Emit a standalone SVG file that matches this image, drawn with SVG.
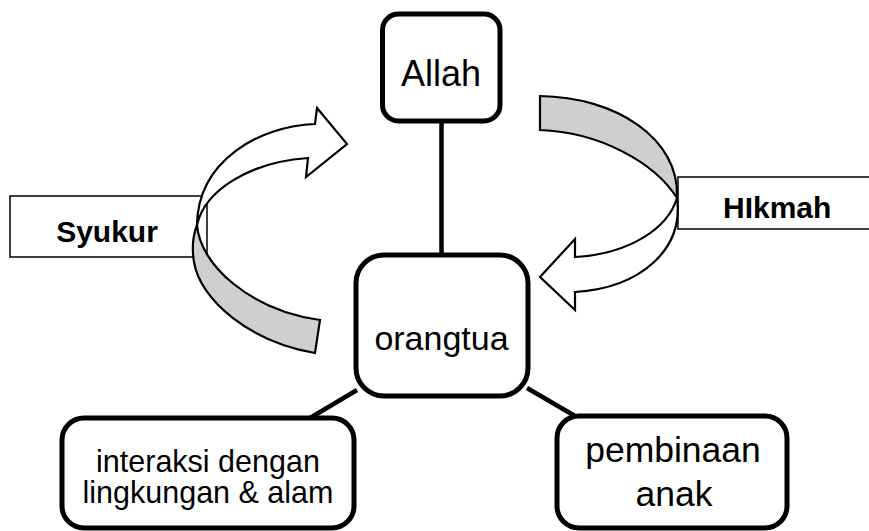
<svg xmlns="http://www.w3.org/2000/svg" width="869" height="531" viewBox="0 0 869 531">
  <style>
    .node { fill: #ffffff; stroke: #000000; stroke-width: 5; }
    .label-box { fill: #ffffff; stroke: #000000; stroke-width: 1.5; }
    .conn { stroke: #000000; stroke-width: 4.5; fill: none; }
    .arrow-front { fill: #ffffff; stroke: #000000; stroke-width: 2.2; stroke-linejoin: miter; }
    .arrow-back { fill: #cfcfcf; stroke: #000000; stroke-width: 2.2; stroke-linejoin: miter; }
    .t { font-family: "Liberation Sans", Arial, sans-serif; fill: #000000; text-anchor: middle; }
    .b { font-family: "Liberation Sans", Arial, sans-serif; font-weight: bold; fill: #000000; }
  </style>
  <rect width="869" height="531" fill="#ffffff"/>

  <g id="connectors">
    <line class="conn" x1="441.5" y1="121" x2="441.5" y2="255"/>
    <line class="conn" x1="357" y1="390" x2="310" y2="418"/>
    <line class="conn" x1="527" y1="388" x2="575" y2="416"/>
  </g>

  <g id="label-syukur">
    <rect class="label-box" x="10" y="196" width="197" height="61"/>
    <text class="b" x="107" y="242" font-size="30" text-anchor="middle">Syukur</text>
  </g>

  <g id="label-hikmah">
    <rect class="label-box" x="678" y="177" width="200" height="52"/>
    <text class="b" x="723" y="218" font-size="30">HIkmah</text>
  </g>

  <g id="arrow-syukur">
    <path class="arrow-back" d="M197,225 C192,238 192,250 194,262 C200,300 250,342 315,353 L320,320 C250,310 200,265 197,225 Z"/>
    <path class="arrow-front" d="M197,225 C205,190 250,162 308,158 L306,177 L347,144 L317,108 L315,124 C260,126 198,160 197,225 Z"/>
  </g>

  <g id="arrow-hikmah">
    <path class="arrow-back" d="M540,96 C615,97 680,138 677,198 C655,163 600,132 540,130 Z"/>
    <path class="arrow-front" d="M677,198 C668,228 630,254 575,257 L575,239 L540,277 L575,310 L575,292 C640,288 684,250 677,198 Z"/>
  </g>

  <g id="node-allah">
    <rect class="node" x="382.5" y="14" width="117.5" height="107" rx="16"/>
    <text class="t" x="441" y="86" font-size="36">Allah</text>
  </g>

  <g id="node-orangtua">
    <rect class="node" x="356" y="255" width="172" height="141" rx="28"/>
    <text class="t" x="441.5" y="350" font-size="34">orangtua</text>
  </g>

  <g id="node-interaksi">
    <rect class="node" x="62" y="418" width="292" height="110" rx="22"/>
    <text class="t" x="208" y="472" font-size="30.5">interaksi dengan</text>
    <text class="t" x="208" y="503" font-size="30.5">lingkungan &amp; alam</text>
  </g>

  <g id="node-pembinaan">
    <rect class="node" x="557" y="416" width="230" height="112" rx="22"/>
    <text class="t" x="673" y="462" font-size="35.5">pembinaan</text>
    <text class="t" x="674" y="506" font-size="35.5">anak</text>
  </g>
</svg>
